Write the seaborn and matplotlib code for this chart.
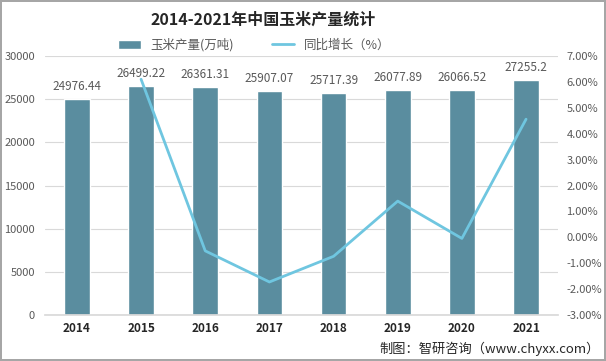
import numpy as np
import pandas as pd
import matplotlib
matplotlib.use("Agg")
import matplotlib.pyplot as plt
import seaborn as sns
from matplotlib.ticker import FuncFormatter

years = ["2014", "2015", "2016", "2017", "2018", "2019", "2020", "2021"]
output = [24976.44, 26499.22, 26361.31, 25907.07, 25717.39, 26077.89, 26066.52, 27255.2]
output_labels = ["24976.44", "26499.22", "26361.31", "25907.07", "25717.39", "26077.89", "26066.52", "27255.2"]
growth = [np.nan, 6.10, -0.52, -1.72, -0.73, 1.40, -0.04, 4.56]

bar_color = "#5a8d9f"
line_color = "#6fc6e0"
tick_color = "#595959"

sns.set_theme(style="white")
plt.rcParams["font.family"] = ["Noto Sans CJK SC", "DejaVu Sans"]

df = pd.DataFrame({"year": years, "output": output, "growth": growth})
df["pos"] = np.arange(len(df))

fig = plt.figure(figsize=(6.06, 3.61), dpi=100)
fig.patch.set_edgecolor("#a6a6a6")
fig.patch.set_linewidth(1.5)
ax = fig.add_axes([0.074, 0.127, 0.847, 0.718])

sns.barplot(data=df, x="year", y="output", color=bar_color, width=0.4,
            saturation=1, ax=ax, label="玉米产量(万吨)")
ax.set_ylim(0, 30000)
ax.set_xlim(-0.5, 7.5)
ax.set_yticks(range(0, 30001, 5000))
ax.yaxis.grid(True, color="#d9d9d9", linewidth=0.8)
ax.set_axisbelow(True)
for s in ["top", "right", "left"]:
    ax.spines[s].set_visible(False)
ax.spines["bottom"].set_color("#d9d9d9")
ax.set_xlabel("")
ax.set_ylabel("")
ax.tick_params(axis="y", colors=tick_color, labelsize=8, length=0, pad=7)
ax.tick_params(axis="x", length=0, pad=5)
for lab in ax.get_xticklabels():
    lab.set_fontweight("bold")
    lab.set_fontsize(8.5)
    lab.set_color("#262626")

for i, (v, t) in enumerate(zip(output, output_labels)):
    ax.text(i, v + 700, t, ha="center", va="bottom", fontsize=8.5, color=tick_color)

ax2 = ax.twinx()
sns.lineplot(data=df, x="pos", y="growth", color=line_color, linewidth=2,
             ax=ax2, label="同比增长（%）", legend=False)
ax2.set_ylim(-3, 7)
ax2.set_yticks(range(-3, 8))
ax2.yaxis.set_major_formatter(FuncFormatter(lambda v, p: f"{v:.2f}%"))
ax2.tick_params(axis="y", colors=tick_color, labelsize=8, length=0, pad=6)
for s in ax2.spines.values():
    s.set_visible(False)
ax2.set_xlabel("")
ax2.set_ylabel("")
ax2.grid(False)

h1, l1 = ax.get_legend_handles_labels()
h2, l2 = ax2.get_legend_handles_labels()
if ax.get_legend():
    ax.get_legend().remove()
fig.legend(h1 + h2, l1 + l2, loc="center", bbox_to_anchor=(0.42, 0.875), ncol=2,
           frameon=False, fontsize=9, handlelength=1.8, columnspacing=3,
           labelcolor=tick_color)

fig.text(0.435, 0.945, "2014-2021年中国玉米产量统计", ha="center", va="center",
         fontsize=11.5, fontweight="bold", color="#262626")
fig.text(0.99, 0.035, "制图：智研咨询（www.chyxx.com）", ha="right", va="center",
         fontsize=9.5, color="#262626")

fig.savefig("out.png", dpi=100)
